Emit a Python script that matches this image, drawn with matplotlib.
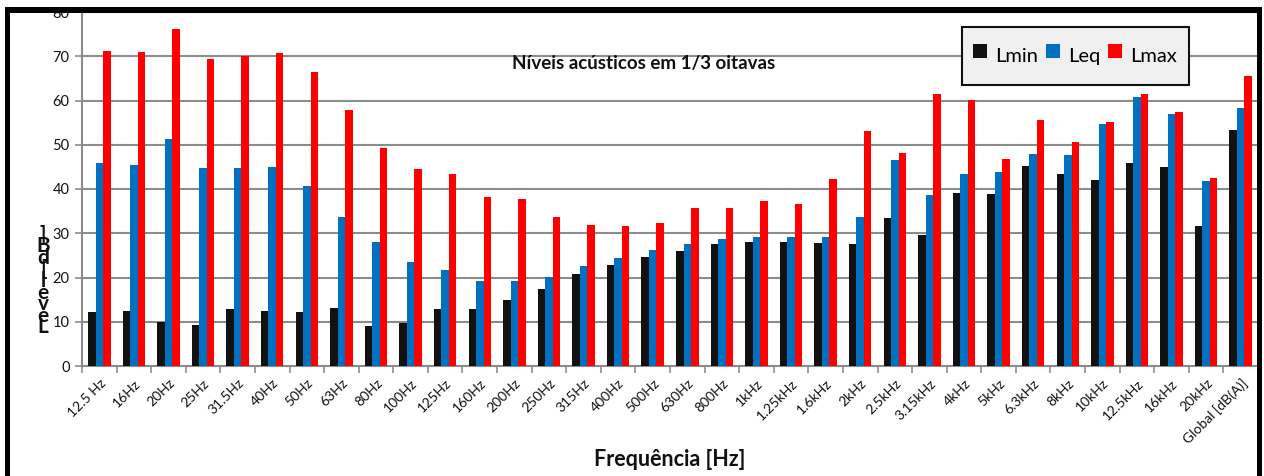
import matplotlib
matplotlib.use("Agg")
import matplotlib.pyplot as plt
from matplotlib.patches import Rectangle
from matplotlib.lines import Line2D
import numpy as np

plt.rcParams['font.family'] = ['Lato', 'DejaVu Sans']

categories = ["12.5 Hz", "16Hz", "20Hz", "25Hz", "31.5Hz", "40Hz", "50Hz", "63Hz", "80Hz",
              "100Hz", "125Hz", "160Hz", "200Hz", "250Hz", "315Hz", "400Hz", "500Hz", "630Hz",
              "800Hz", "1kHz", "1.25kHz", "1.6kHz", "2kHz", "2.5kHz", "3.15kHz", "4kHz", "5kHz",
              "6.3kHz", "8kHz", "10kHz", "12.5kHz", "16kHz", "20kHz", "Global [dB(A)]"]

lmin = [12.1, 12.5, 10.0, 9.2, 12.9, 12.5, 12.3, 13.2, 9.0,
        9.7, 12.9, 12.9, 15.0, 17.3, 20.7, 22.8, 24.7, 26.1,
        27.5, 28.0, 28.1, 27.9, 27.5, 33.5, 29.7, 39.1, 38.9,
        45.3, 43.4, 42.0, 45.9, 45.0, 31.7, 53.3]
leq = [45.9, 45.5, 51.3, 44.7, 44.7, 45.0, 40.7, 33.7, 28.1,
       23.5, 21.8, 19.1, 19.3, 20.1, 22.5, 24.4, 26.3, 27.6,
       28.7, 29.1, 29.2, 29.2, 33.7, 46.6, 38.7, 43.3, 43.8,
       48.0, 47.7, 54.7, 60.9, 56.9, 41.9, 58.4]
lmax = [71.2, 71.0, 76.2, 69.4, 70.0, 70.8, 66.5, 57.9, 49.2,
        44.5, 43.3, 38.1, 37.7, 33.6, 31.8, 31.7, 32.3, 35.7,
        35.7, 37.3, 36.7, 42.3, 53.2, 48.2, 61.5, 60.2, 46.8,
        55.7, 50.7, 55.2, 61.5, 57.4, 42.5, 65.5]

series_names = ["Lmin", "Leq", "Lmax"]
colors = ["#111111", "#0070C0", "#FF0000"]

W, H = 1264, 476
fig = plt.figure(figsize=(W / 100, H / 100), dpi=100)
ax_left, ax_right, ax_top, ax_bottom = 82, 1258, 12, 366
ax = fig.add_axes([ax_left / W, 1 - ax_bottom / H, (ax_right - ax_left) / W, (ax_bottom - ax_top) / H])

x = np.arange(len(categories))
bw = 0.217
for k, (vals, name, c) in enumerate(zip([lmin, leq, lmax], series_names, colors)):
    ax.bar(x + (k - 1) * bw, vals, width=bw, color=c, label=name, zorder=3, linewidth=0)

ax.set_xlim(-0.5, len(categories) - 0.5)
ax.set_ylim(0, 80)
ax.set_yticks(np.arange(0, 81, 10))
ax.yaxis.grid(True, color="#8c8c8c", linewidth=1.5, zorder=0)
ax.set_axisbelow(True)

ax.set_xticks(np.arange(-0.5, len(categories), 1.0))
ax.set_xticklabels([])
ax.set_xticks(x, minor=True)
ax.set_xticklabels(categories, minor=True, rotation=45, ha='right', rotation_mode='anchor',
                   fontsize=10, color="#111111")
ax.tick_params(axis='x', which='minor', length=0, pad=8)
ax.tick_params(axis='x', which='major', length=5, color="#8c8c8c", width=1.2, direction='out')
ax.tick_params(axis='y', length=5, color="#8c8c8c", width=1.2, labelsize=10.5, labelcolor="#111111", pad=4)

for s in ['top', 'right']:
    ax.spines[s].set_visible(False)
for s in ['left', 'bottom']:
    ax.spines[s].set_color("#8c8c8c")
    ax.spines[s].set_linewidth(1.5)

fig.text(644 / W, 1 - 63 / H, "Níveis acústicos em 1/3 oitavas", ha='center', va='center',
         fontsize=13.5, fontweight='bold', color="#111111")
fig.text(670 / W, 1 - 460 / H, "Frequência [Hz]", ha='center', va='center',
         fontsize=15.5, fontweight='bold', color="#111111")

ylab = "Level [dB]".replace(" ", "")
fig.text(43 / W, 1 - 281 / H, "\n".join(reversed(list(ylab))), ha='center', va='center',
         fontsize=15, fontweight='bold', color="#111111", linespacing=0.47)

handles = [Line2D([], [], marker='s', linestyle='none', markersize=9.5, color=c,
                  markeredgewidth=0) for c in colors]
leg = ax.legend(handles, series_names, loc='upper left', bbox_to_anchor=(0.748, 0.958), ncol=3,
                frameon=True, fontsize=14.5, handlelength=0.6, handleheight=2.2, handletextpad=0.45,
                columnspacing=0.45, borderpad=0.6, borderaxespad=0, fancybox=False)
leg.get_frame().set_facecolor("#f0f0f0")
leg.get_frame().set_edgecolor("#111111")
leg.get_frame().set_linewidth(1.5)
leg.get_frame().set_alpha(1)


def frect(x0, y0, x1, y1):
    fig.add_artist(Rectangle((x0 / W, 1 - y1 / H), (x1 - x0) / W, (y1 - y0) / H,
                             transform=fig.transFigure, facecolor='black', edgecolor='none', zorder=10))


frect(5, 7, 1262, 13)
frect(5, 7, 10, 476)
frect(1257, 7, 1262, 476)

fig.savefig("out.png", dpi=100)
